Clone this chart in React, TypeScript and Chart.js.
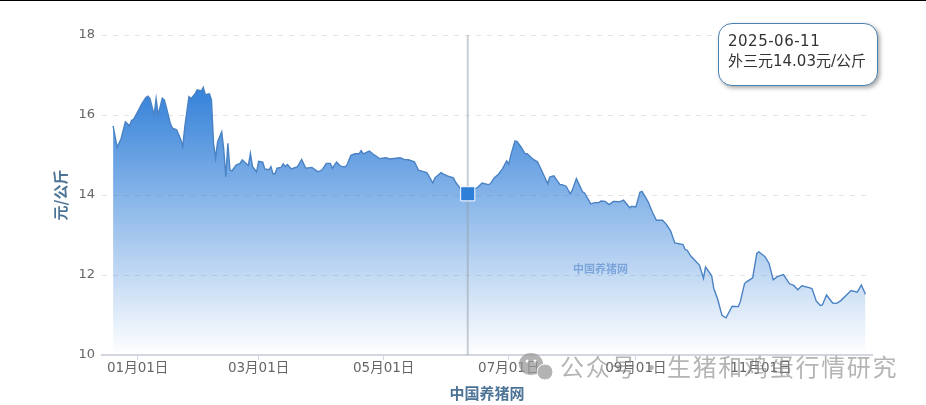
import React, { useEffect, useRef } from "react";
import { Chart, registerables } from "chart.js";

Chart.register(...registerables);

const days = [-12,-10,-8,-6,-4,-3,-2,0,2,4,5,6,8,9,10,12,13,14,16,17,19,21,22,23,25,26,28,29,31,32,33,35,36,37,38,39,41,42,43,44,45,46,48,50,51,53,54,55,56,58,59,61,62,64,65,66,67,68,70,71,72,73,75,78,80,82,85,88,90,92,94,95,97,99,101,102,104,106,108,109,110,113,115,118,121,123,128,130,132,135,137,139,141,142,144,145,148,149,151,154,155,158,161,166,168,171,172,174,176,178,180,181,182,184,185,187,189,190,193,195,197,200,201,203,206,207,209,211,212,214,217,218,221,223,225,226,228,230,232,235,237,240,241,243,245,246,249,251,253,256,258,260,262,266,267,268,270,274,276,277,280,281,283,285,287,290,293,294,296,297,300,302,303,306,308,310,312,315,318,320,322,324,328,329,331,333,334,336,339,341,343,348,351,353,355];
const prices = [15.73,15.19,15.42,15.83,15.73,15.86,15.89,16.08,16.28,16.44,16.47,16.41,16.0,16.41,16.0,16.42,16.38,16.19,15.78,15.67,15.63,15.39,15.21,15.71,16.46,16.41,16.53,16.63,16.6,16.69,16.51,16.53,16.38,15.29,14.92,15.33,15.58,15.13,14.46,15.29,14.63,14.6,14.75,14.79,14.88,14.78,14.74,15.04,14.71,14.58,14.84,14.82,14.65,14.63,14.71,14.53,14.53,14.67,14.69,14.78,14.71,14.76,14.65,14.71,14.89,14.67,14.69,14.58,14.63,14.79,14.79,14.67,14.82,14.72,14.7,14.74,14.99,15.03,15.03,15.11,15.03,15.1,15.02,14.91,14.93,14.9,14.93,14.89,14.88,14.83,14.62,14.59,14.56,14.48,14.3,14.43,14.56,14.53,14.48,14.43,14.33,14.12,14.03,14.2,14.3,14.26,14.28,14.43,14.52,14.66,14.85,14.77,14.99,15.35,15.34,15.2,15.03,15.03,14.89,14.83,14.62,14.28,14.45,14.48,14.26,14.26,14.22,14.03,14.12,14.41,14.08,14.05,13.78,13.81,13.81,13.85,13.84,13.76,13.84,13.83,13.87,13.68,13.72,13.7,14.07,14.09,13.83,13.58,13.37,13.37,13.26,13.1,12.8,12.76,12.64,12.62,12.46,12.25,11.92,12.2,11.98,11.67,11.38,10.99,10.93,11.22,11.21,11.34,11.78,11.83,11.93,12.54,12.58,12.46,12.29,11.88,11.96,12.01,11.78,11.74,11.63,11.73,11.68,11.65,11.35,11.24,11.25,11.5,11.3,11.29,11.36,11.61,11.57,11.75,11.52];

const xTickDays = [0, 59, 120, 181, 243, 304];
const xTickLabels = ["01月01日", "03月01日", "05月01日", "07月01日", "09月01日", "11月01日"];
const yTicks = [10, 12, 14, 16, 18];
const yTitle = "元/公斤";
const xTitle = "中国养猪网";
const activeDay = [161];
const activePrice = [14.03];
const tooltipDate = "2025-06-11";
const tooltipLine = "外三元14.03元/公斤";
const siteMark = "中国养猪网";
const wechatMark = "公众号 · 生猪和鸡蛋行情研究";

const FONT = '"Noto Sans CJK SC", "Noto Sans", sans-serif';
const WIDE = '"DejaVu Sans", "Noto Sans CJK SC", sans-serif';

export default function App() {
  const ref = useRef<HTMLCanvasElement>(null);
  useEffect(() => {
    document.body.style.margin = "0";
    const chart = new Chart(ref.current!, {
      type: "line",
      data: {
        datasets: [
          {
            data: days.map((d, i) => ({ x: d, y: prices[i] })),
            borderColor: "#4a82c4",
            borderWidth: 1.4,
            pointRadius: 0,
            tension: 0,
            fill: "origin",
            backgroundColor: (ctx: any) => {
              const c = ctx.chart;
              const ys = c.scales.y;
              if (!c.chartArea || !ys) return "rgba(47,126,216,0.5)";
              const top = ys.getPixelForValue(Math.max(...prices));
              const bottom = ys.getPixelForValue(10);
              if (!Number.isFinite(top) || !Number.isFinite(bottom)) return "rgba(47,126,216,0.5)";
              const g = c.ctx.createLinearGradient(0, top, 0, bottom);
              g.addColorStop(0, "rgba(47,126,216,0.98)");
              g.addColorStop(1, "rgba(47,126,216,0)");
              return g;
            },
            order: 3,
          },
          {
            data: [{ x: activeDay[0], y: 10 }, { x: activeDay[0], y: 18 }],
            borderColor: "rgba(150,160,170,0.5)",
            borderWidth: 2,
            pointRadius: 0,
            fill: false,
            order: 2,
          },
          {
            data: [{ x: activeDay[0], y: activePrice[0] }],
            pointStyle: "rect",
            pointRadius: 10,
            pointBackgroundColor: "#2f7ed8",
            pointBorderColor: "#ffffff",
            pointBorderWidth: 1,
            showLine: false,
            order: 1,
          },
        ],
      },
      options: {
        responsive: false,
        animation: false,
        events: [],
        layout: { padding: { top: 35, right: 54, left: 0, bottom: 0 } },
        plugins: { legend: { display: false }, tooltip: { enabled: false } },
        scales: {
          x: {
            type: "linear",
            min: -17.4,
            max: 358.2,
            afterFit: (s: any) => { s.height = 50; },
            afterBuildTicks: (s: any) => { s.ticks = xTickDays.map((v) => ({ value: v })); },
            grid: { drawOnChartArea: false, drawTicks: true, tickLength: 5, color: "#d3d5e0" },
            border: { color: "#d3d5e0", width: 2 },
            ticks: {
              autoSkip: false,
              maxRotation: 0,
              padding: 0,
              color: "#666666",
              font: { family: WIDE, size: 13.5 },
              callback: (v: any) => xTickLabels[xTickDays.indexOf(v)] ?? "",
            },
            title: {
              display: true,
              text: xTitle,
              color: "#4d7396",
              font: { family: FONT, size: 15, weight: "bold" },
              padding: { top: 3, bottom: 3 },
            },
          },
          y: {
            min: 10,
            max: 18,
            afterFit: (s: any) => { s.width = 102; },
            afterBuildTicks: (s: any) => { s.ticks = yTicks.map((v) => ({ value: v })); },
            grid: { drawTicks: false, color: "#e4e4e4" },
            border: { display: false, dash: [5, 6] },
            ticks: {
              padding: 7,
              color: "#666666",
              font: { family: WIDE, size: 13 },
            },
            title: {
              display: true,
              text: yTitle,
              color: "#4d7396",
              font: { family: FONT, size: 15, weight: "bold" },
              padding: { top: 51, bottom: 0 },
            },
          },
        },
      },
    });
    return () => chart.destroy();
  }, []);

  return (
    <div style={{ position: "relative", width: 926, height: 405, overflow: "hidden", background: "#fff", fontFamily: FONT }}>
      <canvas ref={ref} width={926} height={405} style={{ display: "block" }} />
      <div style={{ position: "absolute", left: 0, top: 0, width: 926, height: 1, background: "#000" }} />
      <div style={{ position: "absolute", left: 573, top: 260, fontSize: 11, fontWeight: 700, color: "rgba(70,125,200,0.55)", whiteSpace: "nowrap" }}>{siteMark}</div>
      <div style={{ position: "absolute", left: 718, top: 23, width: 160, height: 63, boxSizing: "border-box", border: "1.5px solid #4a82b4", borderRadius: 14, background: "#fff", boxShadow: "2px 2px 4px rgba(0,0,0,0.35)", padding: "7px 9px", fontSize: 15, lineHeight: "20px", color: "#333", whiteSpace: "nowrap", fontFamily: WIDE }}>
        <div style={{ letterSpacing: 0.5 }}>{tooltipDate}</div>
        <div>{tooltipLine}</div>
      </div>
      <svg style={{ position: "absolute", left: 518, top: 352, opacity: 0.75 }} width="38" height="30" viewBox="0 0 38 30">
        <ellipse cx="13" cy="12" rx="12" ry="11" fill="#9a9a9a" />
        <ellipse cx="27" cy="20" rx="8" ry="8" fill="#9a9a9a" stroke="#fff" strokeWidth="1" />
        <circle cx="9" cy="9" r="1.5" fill="#fff" />
        <circle cx="17" cy="9" r="1.5" fill="#fff" />
      </svg>
      <div style={{ position: "absolute", left: 560, top: 349, fontSize: 24, lineHeight: "34px", letterSpacing: 1.7, wordSpacing: -5, color: "rgba(130,130,130,0.6)", whiteSpace: "nowrap" }}>{wechatMark}</div>
    </div>
  );
}
